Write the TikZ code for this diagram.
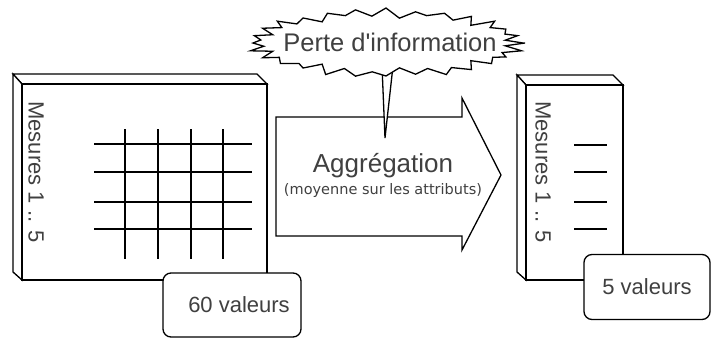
\documentclass[tikz,border=0pt]{standalone}
\usepackage{fontspec}
\setmainfont{Liberation Sans}
\newfontfamily\petite{DejaVu Sans}
\usepackage{xcolor}
\usepackage{tikz}
\usetikzlibrary{calc}
\definecolor{gristexte}{RGB}{64,64,64}
\tikzset{
  trait/.style={line width=1.3pt,black},
  grille/.style={line width=1.6pt,black},
  etiquette/.style={draw,line width=1.3pt,fill=white,rounded corners=8pt,text=gristexte,font=\fontsize{22}{24}\selectfont},
  mesures/.style={rotate=-90,text=gristexte,font=\fontsize{22}{24}\selectfont}
}
\begin{document}
\begin{tikzpicture}[x=1pt,y=-1pt]
\useasboundingbox (0,0) rectangle (713,338);
% boite de gauche (60 valeurs)
\coordinate (GA) at (13,74);
\coordinate (GB) at (257,74);
\coordinate (GC) at (13,272);
\coordinate (G1) at (22,84);
\coordinate (G2) at (267,280);
\draw[trait,fill=white] (GA)--(GB)--(267,84)--(G1)--cycle;
\draw[trait,fill=white] (GA)--(G1)--(22,280)--(GC)--cycle;
\draw[trait,fill=white] (G1) rectangle (G2);
\node[mesures] (mesG) at (36,172) {Mesures 1 .. 5};
\draw[grille] (94,144)--(252,144);
\draw[grille] (94,172)--(252,172);
\draw[grille] (94,202)--(252,202);
\draw[grille] (94,229)--(252,229);
\draw[grille] (125,129)--(125,259);
\draw[grille] (158,129)--(158,259);
\draw[grille] (191,129)--(191,259);
\draw[grille] (223,129)--(223,259);
\node[etiquette,minimum width=138pt,minimum height=64pt] (valG) at (232,305) {\hspace{14pt}60 valeurs};
% boite de droite (5 valeurs)
\coordinate (DA) at (517,75);
\coordinate (DB) at (613,75);
\coordinate (DC) at (517,272);
\coordinate (D1) at (526,85);
\coordinate (D2) at (623,280);
\draw[trait,fill=white] (DA)--(DB)--(623,85)--(D1)--cycle;
\draw[trait,fill=white] (DA)--(D1)--(526,280)--(DC)--cycle;
\draw[trait,fill=white] (D1) rectangle (D2);
\node[mesures] (mesD) at (543,172) {Mesures 1 .. 5};
\draw[grille] (574,145)--(607,145);
\draw[grille] (574,172)--(607,172);
\draw[grille] (574,202)--(607,202);
\draw[grille] (574,229)--(607,229);
\node[etiquette,minimum width=126pt,minimum height=65pt] (valD) at (647,287) {5 valeurs};
% fleche d'aggregation
\draw[trait,fill=white] (276,117)--(462,117)--(462,98)--(501,175)--(462,250)--(462,236)--(276,236)--cycle;
\node[text=gristexte,font=\fontsize{26}{28}\selectfont] (agg) at (383,166) {Aggrégation};
\node[text=gristexte,font=\petite\fontsize{14.5}{16}\selectfont] (moy) at (383,190) {(moyenne sur les attributs)};
% bulle
\coordinate (B) at (386,43);
\coordinate (Q) at (385,138);
\draw[trait,fill=white] (382,66)--(Q)--(393,66);
\draw[trait,fill=white,line join=miter] ($(B)+(139,0)$)
  \foreach \i in {0,...,27}{
    -- ($(B)+({(120+3*mod(\i*7,3))*cos(\i*12.857+6.43)},{(25+2*mod(\i*5,3))*sin(\i*12.857+6.43)})$)
    -- ($(B)+({(139-2*mod(\i*3,4))*cos((\i+1)*12.857)},{(35-mod(\i*3,4))*sin((\i+1)*12.857)})$)
  } -- cycle;
\node[text=gristexte,font=\fontsize{25.5}{27}\selectfont] (perte) at (390,42) {Perte d\textquotesingle information};
\end{tikzpicture}
\end{document}
